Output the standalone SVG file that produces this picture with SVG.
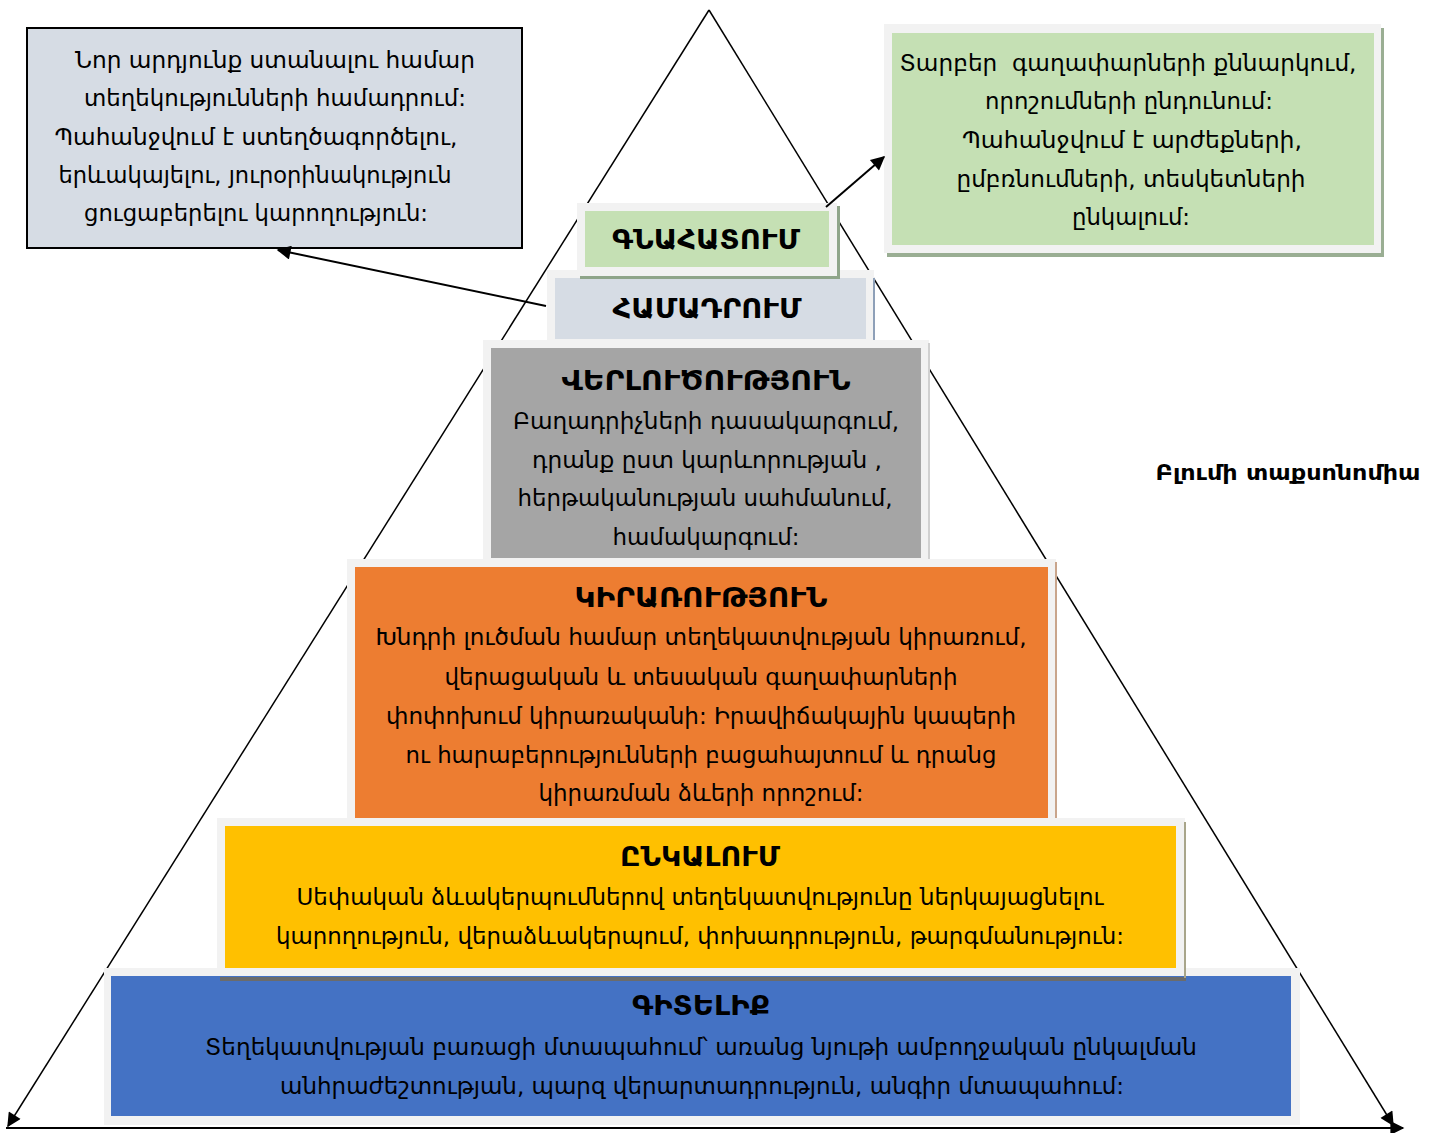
<svg xmlns="http://www.w3.org/2000/svg" width="1439" height="1133" viewBox="0 0 1439 1133">
<style>
text{font-family:"DejaVu Sans","Noto Sans",sans-serif;fill:#000;white-space:pre}
.b{font-size:22.5px}
.t{font-size:27px;font-weight:bold}
.frame{fill:#f2f2f2}
.leg{stroke:#000;stroke-width:1.5;fill:none}
.arr{stroke:#000;stroke-width:2;fill:none}
</style>
<defs>
<marker id="ah" viewBox="0 0 10 10" refX="9" refY="5" markerWidth="16" markerHeight="14" markerUnits="userSpaceOnUse" orient="auto">
<path d="M0,0 L10,5 L0,10 Z" fill="#000"/>
</marker>
</defs>
<rect width="1439" height="1133" fill="#fff"/>
<g id="connectors">
<line class="leg" x1="709" y1="10" x2="8" y2="1126" marker-end="url(#ah)"/>
<line class="leg" x1="709" y1="10" x2="1393" y2="1125" marker-end="url(#ah)"/>
<line x1="6" y1="1128" x2="1403" y2="1128" stroke="#000" stroke-width="2" marker-end="url(#ah)"/>
</g>
<g id="gitelik">
<rect class="frame" x="104" y="968" width="1196" height="157"/>
<rect x="111" y="976" width="1180" height="140" fill="#4472c4"/>
<text class="t" x="701" y="1015" text-anchor="middle" textLength="138" lengthAdjust="spacingAndGlyphs">ԳԻՏԵԼԻՔ</text>
<text class="b" x="701" y="1055" text-anchor="middle" textLength="992" lengthAdjust="spacingAndGlyphs">Տեղեկատվության բառացի մտապահում՝ առանց նյութի ամբողջական ընկալման</text>
<text class="b" x="702" y="1094" text-anchor="middle" textLength="844" lengthAdjust="spacingAndGlyphs">անհրաժեշտության, պարզ վերարտադրություն, անգիր մտապահում:</text>
</g>
<g id="enkalum">
<rect class="frame" x="217" y="818" width="968" height="158"/>
<rect x="225" y="826" width="951" height="142" fill="#ffc000"/>
<rect x="220" y="977" width="966" height="4" fill="#6b6b6b"/>
<rect x="1184" y="822" width="2" height="156" fill="#a8a58a"/>
<text class="t" x="700" y="866" text-anchor="middle" textLength="160" lengthAdjust="spacingAndGlyphs">ԸՆԿԱԼՈՒՄ</text>
<text class="b" x="700" y="905" text-anchor="middle" textLength="807" lengthAdjust="spacingAndGlyphs">Սեփական ձևակերպումներով տեղեկատվությունը ներկայացնելու</text>
<text class="b" x="700" y="944" text-anchor="middle" textLength="848" lengthAdjust="spacingAndGlyphs">կարողություն, վերաձևակերպում, փոխադրություն, թարգմանություն:</text>
</g>
<g id="kiraroutyun">
<rect class="frame" x="347" y="559" width="709" height="259"/>
<rect x="355" y="567" width="693" height="251" fill="#ed7d31"/>
<rect x="1055" y="562" width="2" height="256" fill="#c9a58c"/>
<text class="t" x="701" y="607" text-anchor="middle" textLength="253" lengthAdjust="spacingAndGlyphs">ԿԻՐԱՌՈՒԹՅՈՒՆ</text>
<text class="b" x="701" y="645" text-anchor="middle" textLength="651" lengthAdjust="spacingAndGlyphs">Խնդրի լուծման համար տեղեկատվության կիրառում,</text>
<text class="b" x="701" y="685" text-anchor="middle" textLength="513" lengthAdjust="spacingAndGlyphs">վերացական և տեսական գաղափարների</text>
<text class="b" x="701" y="724" text-anchor="middle" textLength="630" lengthAdjust="spacingAndGlyphs">փոփոխում կիրառականի: Իրավիճակային կապերի</text>
<text class="b" x="701" y="763" text-anchor="middle" textLength="591" lengthAdjust="spacingAndGlyphs">ու հարաբերությունների բացահայտում և դրանց</text>
<text class="b" x="701" y="801" text-anchor="middle" textLength="325" lengthAdjust="spacingAndGlyphs">կիրառման ձևերի որոշում:</text>
</g>
<g id="verlutsutyun">
<rect class="frame" x="483" y="340" width="446" height="219"/>
<rect x="491" y="348" width="430" height="210" fill="#a5a5a5"/>
<rect x="928" y="343" width="2" height="216" fill="#d0d0d0"/>
<text class="t" x="706" y="390" text-anchor="middle" textLength="289" lengthAdjust="spacingAndGlyphs">ՎԵՐԼՈՒԾՈՒԹՅՈՒՆ</text>
<text class="b" x="706" y="429" text-anchor="middle" textLength="386" lengthAdjust="spacingAndGlyphs">Բաղադրիչների դասակարգում,</text>
<text class="b" x="707" y="468" text-anchor="middle" textLength="350" lengthAdjust="spacingAndGlyphs">դրանք ըստ կարևորության ,</text>
<text class="b" x="705" y="506" text-anchor="middle" textLength="375" lengthAdjust="spacingAndGlyphs">հերթականության սահմանում,</text>
<text class="b" x="706" y="545" text-anchor="middle" textLength="187" lengthAdjust="spacingAndGlyphs">համակարգում:</text>
</g>
<g id="hamadrum">
<rect class="frame" x="547" y="270" width="327" height="70"/>
<rect x="555" y="278" width="311" height="61" fill="#d6dce4"/>
<rect x="873" y="278" width="2" height="62" fill="#8ea0b8"/>
<text class="t" x="707" y="318" text-anchor="middle" textLength="189" lengthAdjust="spacingAndGlyphs">ՀԱՄԱԴՐՈՒՄ</text>
</g>
<g id="gnahatum">
<rect x="580" y="206" width="260" height="73" fill="#8fa58a"/>
<rect class="frame" x="577" y="203" width="260" height="73"/>
<rect x="585" y="211" width="244" height="56" fill="#c5e0b4"/>
<text class="t" x="706" y="249" text-anchor="middle" textLength="188" lengthAdjust="spacingAndGlyphs">ԳՆԱՀԱՏՈՒՄ</text>
</g>
<g id="note-left">
<rect x="27" y="28" width="495" height="220" fill="#d6dce4" stroke="#000" stroke-width="2"/>
<text class="b" x="275" y="68" text-anchor="middle" textLength="400" lengthAdjust="spacingAndGlyphs">Նոր արդյունք ստանալու համար</text>
<text class="b" x="275" y="106" text-anchor="middle" textLength="382" lengthAdjust="spacingAndGlyphs">տեղեկությունների համադրում:</text>
<text class="b" x="256" y="145" text-anchor="middle" textLength="403" lengthAdjust="spacingAndGlyphs">Պահանջվում է ստեղծագործելու,</text>
<text class="b" x="255" y="183" text-anchor="middle" textLength="393" lengthAdjust="spacingAndGlyphs">երևակայելու, յուրօրինակություն</text>
<text class="b" x="256" y="221" text-anchor="middle" textLength="344" lengthAdjust="spacingAndGlyphs">ցուցաբերելու կարողություն:</text>
</g>
<g id="note-right">
<rect x="887" y="28" width="497" height="229" fill="#9aae93"/>
<rect class="frame" x="884" y="24" width="497" height="229"/>
<rect x="892" y="33" width="482" height="212" fill="#c5e0b4"/>
<text class="b" x="1128" y="71" text-anchor="middle" textLength="457" lengthAdjust="spacingAndGlyphs">Տարբեր  գաղափարների քննարկում,</text>
<text class="b" x="1129" y="109" text-anchor="middle" textLength="288" lengthAdjust="spacingAndGlyphs">որոշումների ընդունում:</text>
<text class="b" x="1132" y="148" text-anchor="middle" textLength="340" lengthAdjust="spacingAndGlyphs">Պահանջվում է արժեքների,</text>
<text class="b" x="1131" y="187" text-anchor="middle" textLength="349" lengthAdjust="spacingAndGlyphs">ըմբռնումների, տեսկետների</text>
<text class="b" x="1131" y="225" text-anchor="middle" textLength="118" lengthAdjust="spacingAndGlyphs">ընկալում:</text>
</g>
<g id="arrows">
<line class="arr" x1="546" y1="306" x2="278" y2="250" marker-end="url(#ah)"/>
<line class="arr" x1="826" y1="207" x2="884" y2="157" marker-end="url(#ah)"/>
</g>
<g id="label">
<text x="1288" y="480" text-anchor="middle" font-size="22" font-weight="bold" textLength="265" lengthAdjust="spacingAndGlyphs">Բլումի տաքսոնոմիա</text>
</g>
</svg>
